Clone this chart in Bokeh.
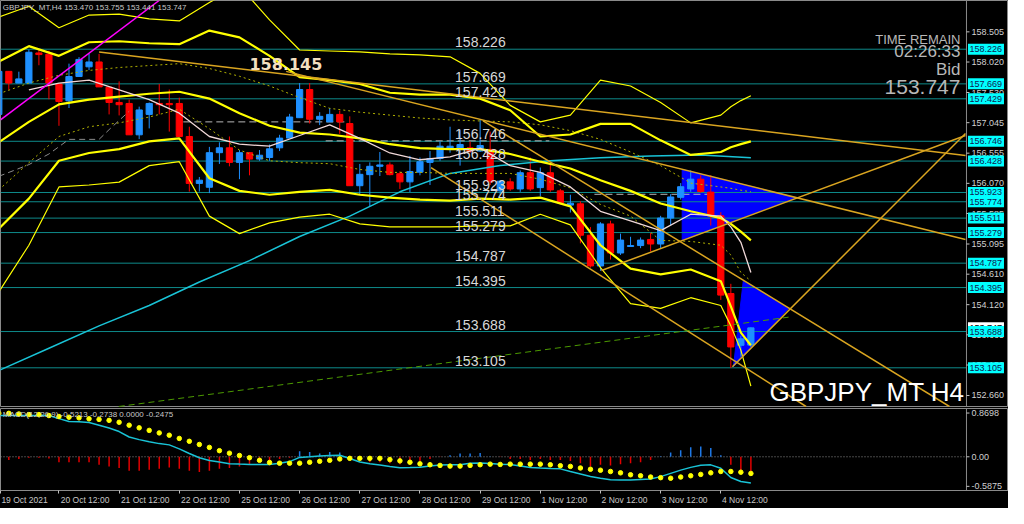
from bokeh.plotting import figure
from bokeh.layouts import column
from bokeh.models import ColumnDataSource, FixedTicker, Label, Range1d, LinearAxis
from bokeh.embed import file_html
from bokeh.resources import INLINE
from bokeh.core.properties import value

# ---------------- data ----------------
bars = list(range(-6, 70))  # H4 bar index, 0 = 20 Oct 12:00
open_ = [157.178, 157.870, 157.682, 157.682, 158.166, 158.146, 157.667, 157.396, 157.787, 157.943,
         158.021, 157.615, 157.370, 157.354, 156.850, 157.178, 157.354, 157.354, 157.354, 156.823,
         156.069, 156.007, 156.563, 156.641, 156.407, 156.563, 156.460, 156.485, 156.641, 156.797,
         157.125, 157.578, 157.100, 157.058, 157.178, 157.031, 156.032, 156.210, 156.344, 156.366,
         156.225, 156.094, 156.250, 156.407, 156.469, 156.616, 156.625, 156.641, 156.589, 156.616,
         155.949, 156.094, 155.980, 156.241, 156.001, 156.241, 155.949, 155.720, 155.741, 155.236,
         154.742, 155.418, 154.950, 155.055, 155.070, 155.168, 155.095, 155.512, 155.845, 155.980,
         156.137, 155.929, 155.548, 154.299, 153.467, 153.470]
high = [157.916, 157.875, 157.865, 158.218, 158.218, 158.202, 157.667, 157.994, 158.099, 158.151,
        158.151, 157.620, 157.709, 157.417, 157.303, 157.370, 157.667, 157.578, 157.448, 156.980,
        156.172, 156.656, 156.730, 156.823, 156.605, 156.574, 156.605, 156.694, 156.850, 157.187,
        157.682, 157.682, 157.214, 157.281, 157.240, 157.147, 156.382, 156.407, 156.574, 156.407,
        156.261, 156.511, 156.485, 156.589, 156.745, 156.980, 156.933, 156.745, 157.089, 156.902,
        156.121, 156.152, 156.277, 156.485, 156.324, 156.382, 155.980, 155.887, 155.782, 155.367,
        155.445, 155.470, 155.262, 155.211, 155.200, 155.273, 155.548, 155.898, 156.074, 156.277,
        156.199, 156.199, 155.606, 154.455, 153.623, 153.755]
low = [157.136, 157.573, 157.680, 157.680, 157.968, 157.421, 156.995, 157.281, 157.787, 157.890,
       157.620, 157.178, 157.162, 156.850, 156.781, 156.953, 157.178, 156.902, 156.823, 155.938,
       155.938, 155.913, 156.382, 156.344, 156.137, 156.199, 156.433, 156.433, 156.589, 156.797,
       157.125, 157.031, 157.006, 157.058, 156.866, 156.032, 155.887, 155.704, 156.188, 156.199,
       155.980, 155.929, 156.199, 156.043, 156.433, 156.563, 156.355, 156.558, 156.574, 156.043,
       155.887, 155.949, 155.934, 155.949, 155.860, 155.934, 155.731, 155.601, 155.106, 154.716,
       154.664, 154.845, 154.919, 155.055, 155.028, 154.976, 155.028, 155.392, 155.809, 155.934,
       155.918, 155.392, 154.196, 153.103, 153.284, 153.441]
close = [157.870, 157.682, 157.749, 158.177, 158.140, 157.682, 157.386, 157.787, 158.062, 158.021,
         157.620, 157.370, 157.334, 156.850, 157.250, 157.354, 157.334, 157.334, 156.823, 156.069,
         156.121, 156.563, 156.641, 156.407, 156.563, 156.460, 156.522, 156.625, 156.797, 157.136,
         157.578, 157.100, 157.147, 157.178, 157.058, 156.032, 156.215, 156.344, 156.366, 156.210,
         156.094, 156.261, 156.418, 156.469, 156.667, 156.667, 156.694, 156.589, 156.678, 156.094,
         156.105, 155.980, 156.241, 155.980, 156.241, 155.965, 155.757, 155.751, 155.236, 154.742,
         155.418, 154.950, 155.158, 155.070, 155.158, 155.095, 155.512, 155.851, 156.016, 156.137,
         155.938, 155.548, 154.274, 153.440, 153.571, 153.747]

macd_main = [0.820, 0.820, 0.820, 0.820, 0.820, 0.820, 0.759, 0.703, 0.695, 0.680,
             0.628, 0.571, 0.502, 0.394, 0.341, 0.298, 0.262, 0.237, 0.158, 0.066,
             -0.018, -0.072, -0.104, -0.137, -0.145, -0.152, -0.152, -0.152, -0.127, -0.095,
             -0.012, 0.001, 0.016, 0.024, 0.032, -0.033, -0.104, -0.139, -0.164, -0.193,
             -0.216, -0.214, -0.206, -0.181, -0.164, -0.158, -0.158, -0.129, -0.123, -0.133,
             -0.148, -0.154, -0.185, -0.214, -0.225, -0.235, -0.240, -0.292, -0.340, -0.390,
             -0.425, -0.457, -0.459, -0.459, -0.449, -0.440, -0.394, -0.329, -0.265, -0.210,
             -0.168, -0.160, -0.229, -0.411, -0.490, -0.521]
macd_signal = [0.865, 0.864, 0.851, 0.839, 0.839, 0.820, 0.801, 0.787, 0.774, 0.755,
               0.743, 0.724, 0.686, 0.628, 0.576, 0.525, 0.475, 0.429, 0.365, 0.308,
               0.245, 0.187, 0.122, 0.072, 0.026, -0.018, -0.070, -0.114, -0.127, -0.127,
               -0.127, -0.108, -0.089, -0.070, -0.043, -0.031, -0.031, -0.031, -0.031, -0.056,
               -0.081, -0.108, -0.139, -0.158, -0.171, -0.185, -0.185, -0.171, -0.158, -0.146,
               -0.152, -0.146, -0.146, -0.146, -0.146, -0.158, -0.177, -0.191, -0.223, -0.248,
               -0.267, -0.292, -0.319, -0.357, -0.377, -0.402, -0.415, -0.426, -0.402, -0.377,
               -0.350, -0.319, -0.292, -0.292, -0.306, -0.331]
macd_hist = [-0.045, -0.064, -0.045, -0.019, -0.019, -0.032, -0.109, -0.109, -0.109, -0.109,
             -0.160, -0.192, -0.224, -0.275, -0.275, -0.256, -0.237, -0.211, -0.237, -0.275,
             -0.300, -0.275, -0.237, -0.224, -0.192, -0.160, -0.109, -0.083, -0.045, -0.019,
             0.109, 0.096, 0.064, 0.096, 0.083, -0.045, -0.064, -0.109, -0.109, -0.128,
             -0.147, -0.128, -0.083, -0.045, -0.006, 0.032, 0.064, 0.064, 0.077, 0.006,
             -0.006, -0.045, -0.045, -0.064, -0.045, -0.064, -0.064, -0.083, -0.128, -0.192,
             -0.160, -0.173, -0.147, -0.128, -0.109, -0.064, 0.013, 0.083, 0.128, 0.192,
             0.204, 0.173, 0.032, -0.160, -0.275, -0.339]

# band / moving-average readings, sampled at these bars
band_k = [-6, -3, 0, 3, 6, 9, 12, 15, 18, 21, 24, 27, 30, 33, 36, 39, 42, 45, 48, 51,
          54, 57, 60, 63, 66, 67, 68, 69]
bb_mid = [156.730, 157.058, 157.339, 157.417, 157.464, 157.510, 157.542, 157.432, 157.198, 156.995,
          156.886, 156.855, 156.792, 156.699, 156.636, 156.620, 156.620, 156.542, 156.418, 156.308,
          156.121, 155.949, 155.746, 155.621, 155.512, 155.418, 155.293, 155.153]
bb_up = [158.026, 158.275, 158.119, 158.338, 158.354, 158.322, 158.307, 158.525, 158.416, 158.119,
         157.776, 157.729, 157.667, 157.526, 157.495, 157.495, 157.432, 157.245, 156.823, 156.855,
         157.026, 157.026, 156.761, 156.527, 156.574, 156.650, 156.700, 156.745]
bb_low = [155.340, 155.824, 156.433, 156.558, 156.620, 156.745, 156.792, 156.152, 155.949, 155.887,
          155.934, 155.965, 155.887, 155.840, 155.809, 155.793, 155.824, 155.809, 155.840, 155.699,
          155.075, 154.700, 154.606, 154.685, 154.497, 154.091, 153.670, 153.467]
bb3_up = [158.744, 158.916, 158.572, 158.775, 158.791, 158.713, 158.681, 158.978, 159.243, 158.697,
          158.213, 158.197, 158.182, 158.151, 158.135, 158.104, 157.838, 157.323, 157.058, 157.167,
          157.729, 157.635, 157.370, 157.042, 157.167, 157.300, 157.400, 157.479]
bb3_low = [154.325, 155.075, 156.012, 156.043, 156.090, 156.355, 156.418, 155.543, 155.262, 155.434,
           155.528, 155.574, 155.418, 155.371, 155.371, 155.371, 155.387, 155.387, 155.574, 155.403,
           154.716, 154.138, 154.060, 154.232, 154.107, 153.779, 153.389, 152.811]
ma_dot1 = [157.510, 157.682, 157.807, 157.885, 157.932, 157.963, 157.994, 157.916, 157.791, 157.635,
           157.448, 157.276, 157.214, 157.167, 157.120, 157.089, 157.073, 157.058, 157.011, 156.917,
           156.777, 156.574, 156.355, 156.074, 156.012, 155.990, 155.960, 155.934]
ma_dot2 = [155.965, 156.402, 156.823, 156.980, 157.042, 157.136, 157.261, 156.948, 156.605, 156.433,
           156.402, 156.386, 156.293, 156.246, 156.246, 156.230, 156.230, 156.230, 156.137, 155.996,
           155.731, 155.543, 155.153, 155.137, 155.075, 154.919, 154.638, 154.500]
ma_fast_k = [-3, 0, 3, 6, 9, 12, 15, 18, 21, 24, 27, 30, 33, 36, 39, 42, 45, 48, 51, 54,
             57, 60, 63, 66, 67, 68, 69]
ma_fast = [157.573, 157.682, 157.729, 157.573, 157.417, 157.198, 156.823, 156.699, 156.667, 156.839,
           157.011, 156.792, 156.558, 156.449, 156.496, 156.636, 156.355, 156.246, 156.012, 155.621,
           155.465, 155.309, 155.574, 155.543, 155.371, 155.122, 154.638]
ma_gray_k = [-6, -3, -1, 1, 4, 5, 7]
ma_gray = [156.183, 156.371, 156.542, 156.777, 156.777, 156.933, 157.229]

# slow moving average (cyan)
ma_slow_k = [-6, -1, 4, 9, 14, 19, 24, 29, 34, 39, 44, 49, 54, 59, 64, 69]
ma_slow_p = [153.061, 153.420, 153.779, 154.107, 154.485, 154.828, 155.215, 155.543,
             155.934, 156.230, 156.355, 156.433, 156.480, 156.511, 156.527, 156.480]

# horizontal levels drawn by the trader
levels = [158.226, 157.669, 157.429, 156.746, 156.428, 155.923, 155.774, 155.511,
          155.279, 154.787, 154.395, 153.688, 153.105]
level_text = ["158.226", "157.669", "157.429", "156.746", "156.428", "155.923", "155.774",
              "155.511", "155.279", "154.787", "154.395", "153.688", "153.105"]

# short dashed pivot segments
piv_k0 = [12.4, 26.6, 53.4]
piv_k1 = [28.6, 48.9, 65.2]
piv_p = [157.058, 156.753, 155.894]

# trend lines (start bar, start price, end bar, end price)
tl_k0 = [4.0, 22.66, 37.1, 42.3, 54.1, 67.16]
tl_p0 = [158.182, 157.870, 156.324, 157.073, 154.669, 153.123]
tl_k1 = [90.4, 90.4, 74.5, 88.8, 90.4, 90.4]
tl_p1 = [156.519, 155.168, 152.483, 152.483, 156.839, 156.870]

magenta_k = [-5.83, 9.99]
magenta_p = [157.089, 159.009]
green_k = [5.96, 72.76]
green_p = [152.483, 153.919]

tri1_k = [62.15, 62.15, 73.55]
tri1_p = [156.293, 155.153, 155.840]
tri2_k = [68.24, 72.76, 67.26]
tri2_p = [154.497, 154.060, 153.123]

price_ticks = [158.505, 158.020, 157.530, 157.045, 156.555, 156.070, 155.585, 155.095,
               154.610, 154.120, 153.635, 153.150, 152.660]
macd_ticks = [0.8698, 0.0, -0.5875]
macd_tick_text = ["0.8698", "0.00", "-0.5875"]
time_ticks = [-5.83, 0, 6, 12, 18, 24, 30, 36, 42, 48, 54, 60, 66]
time_labels = ["19 Oct 2021", "20 Oct 12:00", "21 Oct 12:00", "22 Oct 12:00", "25 Oct 12:00",
               "26 Oct 12:00", "27 Oct 12:00", "28 Oct 12:00", "29 Oct 12:00", "1 Nov 12:00",
               "2 Nov 12:00", "3 Nov 12:00", "4 Nov 12:00"]
bid = 153.747

# ---------------- styling ----------------
BG = "black"
FONT = "Liberation Sans"
GRAYTXT = "#c8c8c8"
W = 1008
X0, X1 = -5.83, 94.69
SCALE_X = 90.5           # bar position of the price-scale line
PPB = W / (X1 - X0)       # pixels per bar
XR = Range1d(X0, X1)
AXC = "#8a8a8a"
YEL = "#ffff00"
GOLD = "#daa520"


def make_fig(h, y0, y1, bottom, top):
    f = figure(width=W, height=h, x_range=XR, y_range=Range1d(y0, y1),
               output_backend="svg", toolbar_location=None,
               background_fill_color=BG, border_fill_color=BG,
               min_border_left=0, min_border_right=0, min_border_top=top,
               min_border_bottom=bottom)
    f.grid.visible = False
    f.yaxis.visible = False
    f.outline_line_color = AXC
    return f


def price_scale(f, y0, y1, ticks, texts):
    f.segment(x0=[SCALE_X], x1=[SCALE_X], y0=[y0], y1=[y1], line_color=AXC, line_width=1)
    f.segment(x0=[SCALE_X] * len(ticks), x1=[SCALE_X + 3 / PPB] * len(ticks), y0=ticks, y1=ticks,
              line_color="#c0c0c0", line_width=1)
    f.text(x=[SCALE_X] * len(ticks), y=ticks, text=texts, x_offset=5, text_baseline="middle",
           text_font=value(FONT), text_font_size="9px", text_color="#d0d0d0")


YMIN, YMAX = 152.467, 159.009
p = make_fig(407, YMIN, YMAX, 0, 0)
p.xaxis.visible = False

# triangles (background objects)
p.patch(tri1_k, tri1_p, fill_color="#0000ff", line_color="#0000ff")
p.patch(tri2_k, tri2_p, fill_color="#0000ff", line_color="#0000ff")

# horizontal levels
p.segment(x0=[X0] * len(levels), x1=[SCALE_X] * len(levels), y0=levels, y1=levels,
          line_color="#0e8a8a", line_width=1)
p.segment(x0=piv_k0, x1=piv_k1, y0=piv_p, y1=piv_p, line_color="#b8b8b8", line_width=1,
          line_dash="7 4")

# candles
src = ColumnDataSource(dict(
    x=bars, o=open_, h=high, l=low, c=close,
    top=[max(a, b) for a, b in zip(open_, close)],
    bot=[min(a, b) for a, b in zip(open_, close)],
    col=["#1e90ff" if c >= o else "#ff0000" for o, c in zip(open_, close)],
))
p.segment(x0="x", x1="x", y0="h", y1="l", line_color="col", line_width=1, source=src)
p.vbar(x="x", width=0.62, top="top", bottom="bot", fill_color="col", line_color="col", source=src)

# indicators
p.line(ma_slow_k, ma_slow_p, line_color="#19c3d6", line_width=1.5)
p.line(band_k, ma_dot1, line_color="#b0b000", line_width=1, line_dash="2 3")
p.line(band_k, ma_dot2, line_color="#b0b000", line_width=1, line_dash="2 3")
p.line(ma_gray_k, ma_gray, line_color="#8c8c8c", line_width=1, line_dash="6 4")
p.line(band_k, bb3_up, line_color=YEL, line_width=1.2)
p.line(band_k, bb3_low, line_color=YEL, line_width=1.2)
p.line(band_k, bb_up, line_color=YEL, line_width=2.2)
p.line(band_k, bb_mid, line_color=YEL, line_width=2.2)
p.line(band_k, bb_low, line_color=YEL, line_width=2.2)
p.line(ma_fast_k, ma_fast, line_color="#f0d8d8", line_width=1.3)

# trend lines
p.segment(x0=tl_k0, y0=tl_p0, x1=tl_k1, y1=tl_p1, line_color=GOLD, line_width=1.5)
p.line(magenta_k, magenta_p, line_color="#ff00ff", line_width=1.5)
p.line(green_k, green_p, line_color="#4c9a00", line_width=1, line_dash="6 4")

# level labels on the chart
p.text(x=[39.5] * len(levels), y=levels, text=level_text, text_color="#d8d8d8",
       text_font=value(FONT), text_font_size="14px", text_baseline="bottom", y_offset=-2)
p.text(x=[19.0], y=[157.994], text=["158.145"], text_color="#f2dfc0",
       text_font=value("DejaVu Sans"), text_font_style="bold", text_font_size="16px",
       text_baseline="middle")

# price scale
price_scale(p, YMIN, YMAX, price_ticks, [f"{t:.3f}" for t in price_ticks])
box_x = SCALE_X + 19.5 / PPB
p.rect(x=[box_x] * len(levels), y=levels, width=36, height=11, width_units="screen",
       height_units="screen", fill_color="#00ffff", line_color=None)
p.text(x=[SCALE_X] * len(levels), y=levels, text=level_text, x_offset=3, text_baseline="middle",
       text_font=value(FONT), text_font_size="9px", text_color="#101850")
p.rect(x=[box_x], y=[bid], width=36, height=11, width_units="screen", height_units="screen",
       fill_color="white", line_color=None)
p.text(x=[SCALE_X], y=[bid], text=[f"{bid:.3f}"], x_offset=3, text_baseline="middle",
       text_font=value(FONT), text_font_size="9px", text_color="black")
# the 153.688 box sits on top of the bid box, as on the terminal
p.rect(x=[box_x], y=[levels[11]], width=36, height=11, width_units="screen",
       height_units="screen", fill_color="#00ffff", line_color=None)
p.text(x=[SCALE_X], y=[levels[11]], text=[level_text[11]], x_offset=3, text_baseline="middle",
       text_font=value(FONT), text_font_size="9px", text_color="#101850")

# header texts
p.add_layout(Label(x=-5.6, y=YMAX, y_offset=-2, text="GBPJPY_MT,H4  153.470 153.755 153.441 153.747",
                   text_baseline="top", text_font=FONT, text_font_size="8px", text_color=GRAYTXT))
p.add_layout(Label(x=89.9, y=158.385, text="TIME REMAIN", text_align="right", text_baseline="middle",
                   text_font=FONT, text_font_size="13px", text_color="#b8b8b8"))
p.add_layout(Label(x=89.9, y=158.190, text="02:26:33", text_align="right", text_baseline="middle",
                   text_font=FONT, text_font_size="17px", text_color="#b8b8b8"))
p.add_layout(Label(x=89.9, y=157.901, text="Bid", text_align="right", text_baseline="middle",
                   text_font=FONT, text_font_size="17px", text_color="#b8b8b8"))
p.add_layout(Label(x=89.9, y=157.620, text=f"{bid:.3f}", text_align="right", text_baseline="middle",
                   text_font=FONT, text_font_size="21px", text_color="#b8b8b8"))
p.add_layout(Label(x=90.3, y=YMIN, y_offset=1, text="GBPJPY_MT H4", text_align="right",
                   text_baseline="bottom", text_font=FONT, text_font_size="26px", text_color="white"))

# ---------------- MACD panel ----------------
MY0, MY1 = -0.670, 0.960
m = make_fig(101, MY0, MY1, 18, 1)
price_scale(m, MY0, MY1, macd_ticks, macd_tick_text)

xa = m.xaxis[0]
xa.ticker = FixedTicker(ticks=time_ticks)
xa.major_label_overrides = {t: "" for t in time_ticks}
xa.major_label_text_font_size = "0px"
xa.major_label_standoff = 0
xa.axis_line_color = AXC
xa.major_tick_line_color = "#c0c0c0"
xa.major_tick_out = 3
xa.major_tick_in = 0
xa.minor_tick_line_color = None

# label axis: each date text starts at its tick, as on the terminal
label_pos = [t + (len(s) * 2.05 + 1.5) / PPB for t, s in zip(time_ticks, time_labels)]
xb = LinearAxis(ticker=FixedTicker(ticks=label_pos),
                major_label_overrides={t: s for t, s in zip(label_pos, time_labels)})
xb.axis_line_color = None
xb.major_tick_line_color = None
xb.minor_tick_line_color = None
xb.major_tick_out = 0
xb.major_tick_in = 0
xb.major_label_standoff = 1
xb.major_label_text_color = GRAYTXT
xb.major_label_text_font = FONT
xb.major_label_text_font_size = "8.5px"
m.add_layout(xb, "below")

m.segment(x0=[X0], x1=[SCALE_X], y0=[0], y1=[0], line_color="#909090", line_dash="1 2")
hsrc = ColumnDataSource(dict(x=bars, h=macd_hist, z=[0] * len(bars),
                             col=["#1e78e6" if v > 0 else "#e00000" for v in macd_hist]))
m.segment(x0="x", x1="x", y0="z", y1="h", line_color="col", line_width=1.5, source=hsrc)
m.line(bars, macd_main, line_color="#19c3d6", line_width=1.5)
m.scatter(bars, macd_signal, size=4.5, fill_color="#ffff00", line_color="#ffff00")
m.add_layout(Label(x=-5.6, y=MY1, y_offset=-1, text="MACD(12,26,9) -0.5213 -0.2738 0.0000 -0.2475",
                   text_baseline="top", text_font=FONT, text_font_size="8px", text_color=GRAYTXT))

layout = column(p, m, spacing=0, styles={"background-color": "black"})
open("out.html", "w").write(file_html(layout, INLINE))
